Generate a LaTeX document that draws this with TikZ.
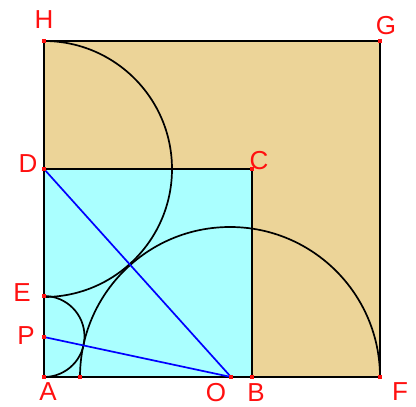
\documentclass[tikz,border=0pt]{standalone}
\usepackage{fontspec}
\setmainfont{Liberation Sans}
\definecolor{sandtan}{HTML}{ECD498}
\definecolor{paleaqua}{HTML}{AAFFFF}
\definecolor{ptred}{HTML}{FF1010}
\usetikzlibrary{arrows.meta, positioning, calc}

\begin{document}
\begin{tikzpicture}[x=1pt, y=1pt, line width=1.7pt,
    lbl/.style={text=ptred, font=\fontsize{26}{26}\selectfont, inner sep=0pt},
    seg/.style={blue, line width=1.7pt}]
      \useasboundingbox (-44,-30) rectangle (372,377);
      % Points
      \coordinate (A) at (0,0);
      \coordinate (B) at (208,0);
      \coordinate (C) at (208,208);
      \coordinate (D) at (0,208);
      \coordinate (E) at (0,81);
      \coordinate (P) at (0,40);
      \coordinate (O) at (187,0);
      \coordinate (Q) at (36,0);
      \coordinate (F) at (336,0);
      \coordinate (G) at (336,336);
      \coordinate (H) at (0,336);
      % Squares
      \fill[sandtan] (A) rectangle (G);
      \fill[paleaqua] (A) rectangle (C);
      \draw (A) -- (F) -- (G) -- (H) -- cycle;
      \draw (D) -- (C) -- (B);
      % Arcs
      \draw (H) arc[start angle=90, end angle=-90, radius=128];
      \draw (E) arc[start angle=90, end angle=-90, radius=40.5];
      \draw (Q) arc[start angle=180, end angle=0, radius=150];
      % Segments
      \draw[seg] (D) -- (O);
      \draw[seg] (P) -- (O);
      % Dots
      \foreach \p in {A,B,C,D,E,P,O,Q,F,G,H} {
        \fill[ptred] (\p) ++(-2.4,-2.4) rectangle ++(4.8,4.8);
      }
      % Labels
      \node[lbl] (lH) at (0,357) {H};
      \node[lbl] (lG) at (342,351) {G};
      \node[lbl] (lC) at (215,216) {C};
      \node[lbl] (lD) at (-16,213) {D};
      \node[lbl] (lE) at (-22,84) {E};
      \node[lbl] (lP) at (-18,41) {P};
      \node[lbl] (lA) at (4,-15) {A};
      \node[lbl] (lO) at (172,-16) {O};
      \node[lbl] (lB) at (212,-16) {B};
      \node[lbl] (lF) at (356,-15) {F};
\end{tikzpicture}
\end{document}
